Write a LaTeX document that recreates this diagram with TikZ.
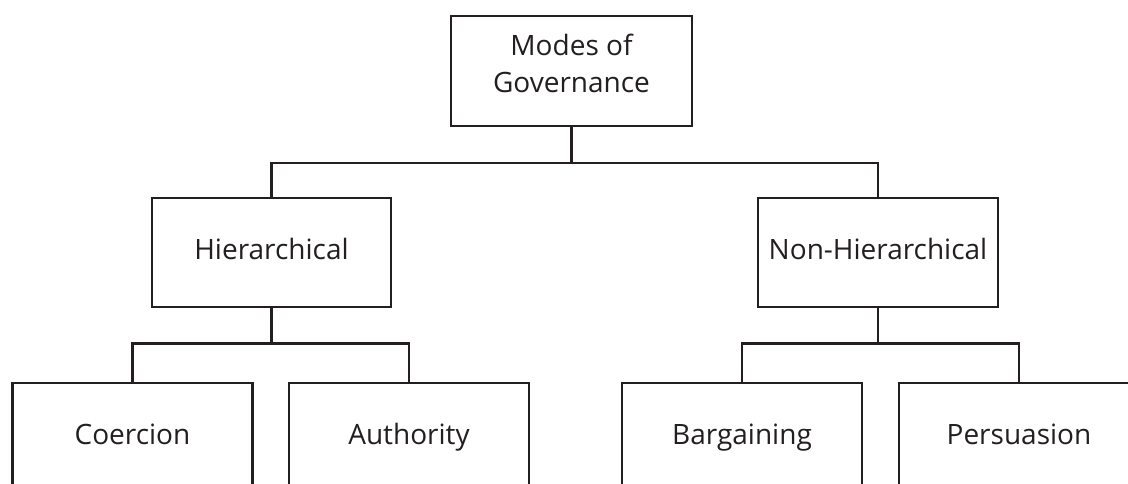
\documentclass[tikz,border=0pt]{standalone}
\usepackage{fontspec}
\setmainfont{Open Sans}
\definecolor{ink}{HTML}{231F20}
\begin{document}
\begin{tikzpicture}[x=1pt,y=1pt,
  boxbase/.style={draw=ink, line width=2.8pt, rectangle, inner sep=0pt, text=ink,
    align=center, font=\fontsize{28}{37}\selectfont},
  box/.style={boxbase, text height=20pt, text depth=7pt},
  conn/.style={draw=ink, line width=2.8pt}]
\useasboundingbox (0,0) rectangle (1128,-484);
\clip (0,0) rectangle (1128,-484);
\fill[white] (0,0) rectangle (1128,-484);
\node[boxbase, text depth=15pt, minimum width=241pt, minimum height=110pt] (top) at (571.5,-71) {Modes of\\Governance};
\node[box, minimum width=239pt, minimum height=109pt] (hier) at (271.5,-252.5) {Hierarchical};
\node[box, minimum width=240pt, minimum height=109pt] (nonh) at (878,-252.5) {Non-Hierarchical};
\node[box, minimum width=240pt, minimum height=109pt] (coer) at (132.5,-437.5) {Coercion};
\node[box, minimum width=240pt, minimum height=109pt] (auth) at (409,-437.5) {Authority};
\node[box, minimum width=240pt, minimum height=109pt] (barg) at (742,-437.5) {Bargaining};
\node[box, minimum width=240pt, minimum height=109pt] (pers) at (1019,-437.5) {Persuasion};
\coordinate (j1) at (571.5,-163);
\coordinate (j2) at (271.5,-343.5);
\coordinate (j3) at (878,-343.5);
\draw[conn] (top.south) -- (j1);
\draw[conn] (hier.north) -- (hier.north |- j1) -- (nonh.north |- j1) -- (nonh.north);
\draw[conn] (hier.south) -- (j2);
\draw[conn] (coer.north) -- (coer.north |- j2) -- (auth.north |- j2) -- (auth.north);
\draw[conn] (nonh.south) -- (j3);
\draw[conn] (barg.north) -- (barg.north |- j3) -- (pers.north |- j3) -- (pers.north);
\end{tikzpicture}
\end{document}
